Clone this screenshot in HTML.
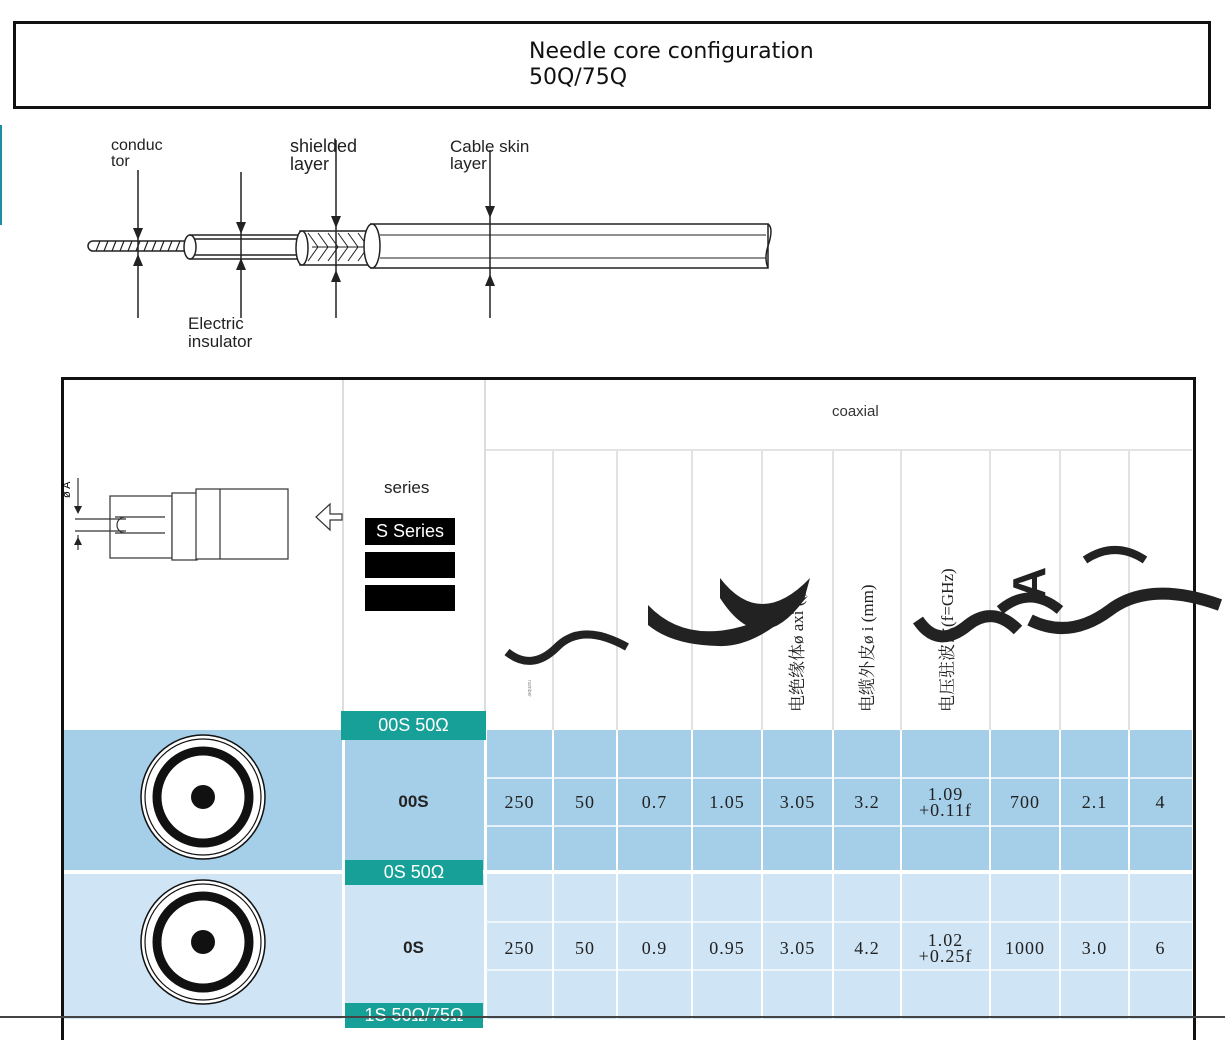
<!DOCTYPE html>
<html><head><meta charset="utf-8"><style>
body{margin:0;width:1225px;height:1019px;background:#fff;position:relative;overflow:hidden;font-family:"Liberation Sans","Noto Sans CJK SC",sans-serif}
.a{position:absolute}
.num{position:absolute;font-family:"Liberation Serif","Noto Serif CJK SC",serif;font-size:18px;color:#222;text-align:center;letter-spacing:1px}
</style></head><body>
<div class="a" style="left:13px;top:21px;width:1192px;height:82px;border:3px solid #111"></div>
<div class="a" style="left:529px;top:39px;font-size:24px;line-height:26px;color:#111;font-family:'DejaVu Sans',sans-serif;font-size:22px">Needle core configuration<br>50Q/75Q</div>
<div class="a" style="left:0;top:125px;width:2px;height:100px;background:#1a8fa0"></div>

<svg class="a" style="left:0;top:0" width="1225" height="1019">
 <g stroke="#222" fill="none" stroke-width="1.5">
  <rect x="88" y="241" width="100" height="10" rx="5" fill="#fff"/>
  <g stroke-width="1.2"><path d="M96 251l4-10M104 251l4-10M112 251l4-10M120 251l4-10M128 251l4-10M136 251l4-10M144 251l4-10M152 251l4-10M160 251l4-10M168 251l4-10M176 251l4-10"/></g>
  <path d="M190 235H300V259H190Z" fill="#fff"/><ellipse cx="190" cy="247" rx="6" ry="12" fill="#fff"/>
  <path d="M195 239H300M195 255H300"/>
  <path d="M300 231H372V265H300Z" fill="#fff"/><ellipse cx="302" cy="248" rx="6" ry="17" fill="#fff"/>
  <path d="M308 233l10 14-10 14M318 233l10 14-10 14M328 233l10 14-10 14M338 233l10 14-10 14M348 233l10 14-10 14M358 233l10 14-10 14M312 247H370" stroke-width="1"/>
  <path d="M370 224H768V268H370" fill="#fff"/><ellipse cx="372" cy="246" rx="8" ry="22" fill="#fff"/>
  <path d="M768 224q6 4 0 22q-4 12 0 22"/>
  <path d="M380 235H766M380 258H766" stroke-width="1"/>
  <path d="M138 170V318M241 172V318M336 140V318M490 150V318"/>
 </g>
 <g fill="#222">
  <path d="M133 228l5 12 5-12zM133 266l5-12 5 12zM236 222l5 12 5-12zM236 270l5-12 5 12zM331 216l5 12 5-12zM331 282l5-12 5 12zM485 206l5 12 5-12zM485 286l5-12 5 12z"/>
 </g>
</svg>
<div class="a" style="left:111px;top:138px;font-size:16px;line-height:16px;color:#222">conduc<br>tor</div>
<div class="a" style="left:290px;top:137px;font-size:18px;line-height:18px;color:#222">shielded<br>layer</div>
<div class="a" style="left:450px;top:138px;font-size:17px;line-height:17px;color:#222">Cable skin<br>layer</div>
<div class="a" style="left:188px;top:315px;font-size:17px;line-height:18px;color:#222">Electric<br>insulator</div>

<div class="a" style="left:61px;top:377px;width:1129px;height:660px;border:3px solid #111;border-bottom:none"></div>
<div class="a" style="left:342px;top:380px;width:2px;height:350px;background:#ddd"></div>
<div class="a" style="left:484px;top:380px;width:2px;height:350px;background:#ddd"></div>
<div class="a" style="left:486px;top:449px;width:706px;height:2px;background:#e4e4e4"></div>
<div class="a" style="left:832px;top:403px;font-size:15px;color:#333">coaxial</div>
<div class="a" style="left:384px;top:478px;font-size:17px;color:#222">series</div>
<div class="a" style="left:365px;top:518px;width:90px;height:27px;background:#000;color:#fff;font-size:18px;line-height:27px;text-align:center">S Series</div>
<div class="a" style="left:365px;top:552px;width:90px;height:26px;background:#000"></div>
<div class="a" style="left:365px;top:585px;width:90px;height:26px;background:#000"></div>

<div class="a" style="left:64px;top:730px;width:1128px;height:140px;background:#a5cfe9"></div>
<div class="a" style="left:64px;top:874px;width:1128px;height:145px;background:#cfe4f4"></div>
<div class="a" style="left:342px;top:730px;width:3px;height:290px;background:#fff"></div>
<div class="a" style="left:484px;top:730px;width:3px;height:290px;background:#fff"></div>
<div class="a" style="left:486px;top:777px;width:706px;height:2px;background:#e6f1f9"></div>
<div class="a" style="left:486px;top:825px;width:706px;height:2px;background:#e6f1f9"></div>
<div class="a" style="left:486px;top:921px;width:706px;height:2px;background:#eef5fb"></div>
<div class="a" style="left:486px;top:969px;width:706px;height:2px;background:#eef5fb"></div>
<div class="a" style="left:341px;top:711px;width:145px;height:29px;background:#17a097;color:#fff;font-size:18px;line-height:29px;text-align:center">00S 50Ω</div>
<div class="a" style="left:345px;top:860px;width:138px;height:25px;background:#17a097;color:#fff;font-size:18px;line-height:25px;text-align:center">0S 50Ω</div>
<div class="a" style="left:345px;top:1003px;width:138px;height:25px;background:#17a097;color:#fff;font-size:18px;line-height:25px;text-align:center">1S 50Ω/75Ω</div>

<svg class="a" style="left:0;top:0" width="1225" height="1019">
 <g stroke="#e2e2e2" stroke-width="2">
  <path d="M553 451V1019M617 451V1019M692 451V1019M762 451V1019M833 451V1019M901 451V1019M990 451V1019M1060 451V1019M1129 451V1019"/>
 </g>
 <g stroke="#fff" stroke-width="2"><path d="M553 730V1019M617 730V1019M692 730V1019M762 730V1019M833 730V1019M901 730V1019M990 730V1019M1060 730V1019M1129 730V1019"/></g>
 <g stroke="#333" fill="#fff" stroke-width="1.2">
  <rect x="110" y="496" width="62" height="62"/>
  <rect x="172" y="493" width="25" height="67"/>
  <rect x="196" y="489" width="92" height="70"/>
  <path d="M220 489V559M115 517H165M115 533H165"/>
  <path d="M125 517a8 8 0 0 0 0 16"/>
  <path d="M330 514v-10l-14 13 14 13v-10h12v-6z"/>
  <path d="M78 478V506M78 535V550M75 519H126M75 531H126"/>
 </g>
 <g fill="#222"><path d="M74 506h8l-4 8zM74 545h8l-4-8z"/></g>
 <text x="70" y="498" font-size="11" transform="rotate(-90 70 498)" font-family="Liberation Sans">ø A</text>
 <g fill="none" stroke="#111">
  <circle cx="203" cy="797" r="62" stroke-width="1.5" fill="#fff"/>
  <circle cx="203" cy="797" r="58" stroke-width="1.2"/>
  <circle cx="203" cy="797" r="46" stroke-width="9"/>
  <circle cx="203" cy="942" r="62" stroke-width="1.5" fill="#fff"/>
  <circle cx="203" cy="942" r="58" stroke-width="1.2"/>
  <circle cx="203" cy="942" r="46" stroke-width="9"/>
 </g>
 <circle cx="203" cy="797" r="12" fill="#111"/><circle cx="203" cy="942" r="12" fill="#111"/>
 <g fill="#222">
  <path d="M648 605Q700 660 800 600L808 596Q760 648 718 646Q672 645 648 625Z"/>
  <path d="M720 578Q760 630 810 578L804 600Q760 660 720 598Z"/>
 </g>
 <g fill="none" stroke="#222" stroke-linecap="butt">
  <path d="M507 652q25 20 50 -5q25 -25 70 0" stroke-width="8"/>
  <path d="M918 620q20 30 50 5q25 -20 50 5" stroke-width="12"/>
  <path d="M1000 610q30 -25 60 0" stroke-width="10"/>
  <path d="M1030 620q40 20 80 -10q40 -30 110 -5" stroke-width="12"/>
  <path d="M1085 560q30 -20 60 0" stroke-width="8"/>
 </g>
 <text font-size="46" font-weight="bold" font-family="Liberation Sans" fill="#222" transform="translate(1045 600) rotate(-90)">A</text>
 <g font-family="Liberation Serif,Noto Serif CJK SC,serif" font-size="17" fill="#222">
  <text transform="translate(803 712) rotate(-90)">电绝缘体ø axi (  )</text>
  <text transform="translate(873 712) rotate(-90)">电缆外皮ø  i (mm)</text>
  <text transform="translate(953 712) rotate(-90)">电压驻波比(f=GHz)</text>
 </g>
 <text transform="translate(528 680) rotate(90)" font-size="5" fill="#888">number</text>
 <line x1="0" y1="1017" x2="1225" y2="1017" stroke="#444" stroke-width="2"/>
</svg>

<div class="a" style="left:342px;top:792px;width:143px;text-align:center;font-size:17px;font-weight:bold;color:#222">00S</div>
<div class="a" style="left:342px;top:938px;width:143px;text-align:center;font-size:17px;font-weight:bold;color:#222">0S</div>

<div class="num" style="left:486px;top:792px;width:67px">250</div>
<div class="num" style="left:553px;top:792px;width:64px">50</div>
<div class="num" style="left:617px;top:792px;width:75px">0.7</div>
<div class="num" style="left:692px;top:792px;width:70px">1.05</div>
<div class="num" style="left:762px;top:792px;width:71px">3.05</div>
<div class="num" style="left:833px;top:792px;width:68px">3.2</div>
<div class="num" style="left:901px;top:786px;width:89px;line-height:16px">1.09<br>+0.11f</div>
<div class="num" style="left:990px;top:792px;width:70px">700</div>
<div class="num" style="left:1060px;top:792px;width:69px">2.1</div>
<div class="num" style="left:1129px;top:792px;width:63px">4</div>

<div class="num" style="left:486px;top:938px;width:67px">250</div>
<div class="num" style="left:553px;top:938px;width:64px">50</div>
<div class="num" style="left:617px;top:938px;width:75px">0.9</div>
<div class="num" style="left:692px;top:938px;width:70px">0.95</div>
<div class="num" style="left:762px;top:938px;width:71px">3.05</div>
<div class="num" style="left:833px;top:938px;width:68px">4.2</div>
<div class="num" style="left:901px;top:932px;width:89px;line-height:16px">1.02<br>+0.25f</div>
<div class="num" style="left:990px;top:938px;width:70px">1000</div>
<div class="num" style="left:1060px;top:938px;width:69px">3.0</div>
<div class="num" style="left:1129px;top:938px;width:63px">6</div>
</body></html>
